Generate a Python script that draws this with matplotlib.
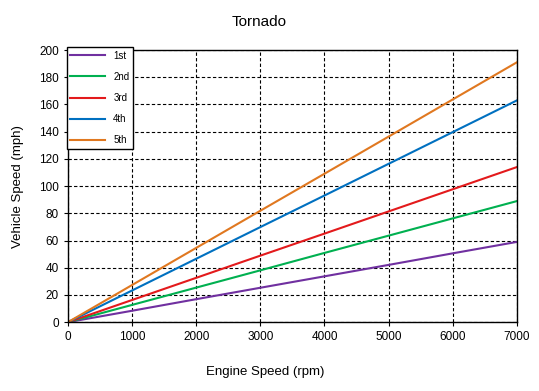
import matplotlib.pyplot as plt
import numpy as np

plt.rcParams['font.family'] = ['Liberation Sans', 'DejaVu Sans']

# engine speed (rpm) and vehicle speed (mph) per gear
rpm = [0, 1000, 2000, 3000, 4000, 5000, 6000, 7000]
gears = ["1st", "2nd", "3rd", "4th", "5th"]
speed_1st = [0, 8.4, 16.9, 25.3, 33.7, 42.1, 50.6, 59]
speed_2nd = [0, 12.7, 25.4, 38.1, 50.9, 63.6, 76.3, 89]
speed_3rd = [0, 16.3, 32.6, 48.9, 65.1, 81.4, 97.7, 114]
speed_4th = [0, 23.3, 46.6, 69.9, 93.1, 116.4, 139.7, 163]
speed_5th = [0, 27.3, 54.6, 81.9, 109.1, 136.4, 163.7, 191]
colors = ["#7030a0", "#00b050", "#e31a1c", "#0070c0", "#e07820"]

fig = plt.figure(figsize=(5.39, 3.91), dpi=100)
ax = fig.add_axes([0.126, 0.176, 0.833, 0.696])

for name, vals, c in zip(gears, [speed_1st, speed_2nd, speed_3rd, speed_4th, speed_5th], colors):
    ax.plot(rpm, vals, color=c, lw=1.5, label=name)

ax.set_xlim(0, 7000)
ax.set_ylim(0, 200)
ax.set_xticks(np.arange(0, 7001, 1000))
ax.set_yticks(np.arange(0, 201, 20))
ax.grid(True, color="black", linestyle=(0, (3, 2)), linewidth=0.8)
ax.tick_params(labelsize=8.5, length=3, direction="out")
for s in ax.spines.values():
    s.set_linewidth(1.0)

# title and x label sit a bit left of the plot-area centre
fig.text(0.481, 0.943, "Tornado", fontsize=11, ha="center", va="center")
fig.text(0.492, 0.048, "Engine Speed (rpm)", fontsize=9.5, ha="center", va="center")
ax.set_ylabel("Vehicle Speed (mph)", fontsize=9.5, labelpad=11)

leg = ax.legend(loc="upper left", bbox_to_anchor=(-0.003, 1.012), fontsize=7,
                fancybox=False, framealpha=1, edgecolor="black",
                borderaxespad=0, labelspacing=1.15, handlelength=3.6)
leg.get_frame().set_linewidth(1.0)

fig.savefig("out.png", dpi=100)
